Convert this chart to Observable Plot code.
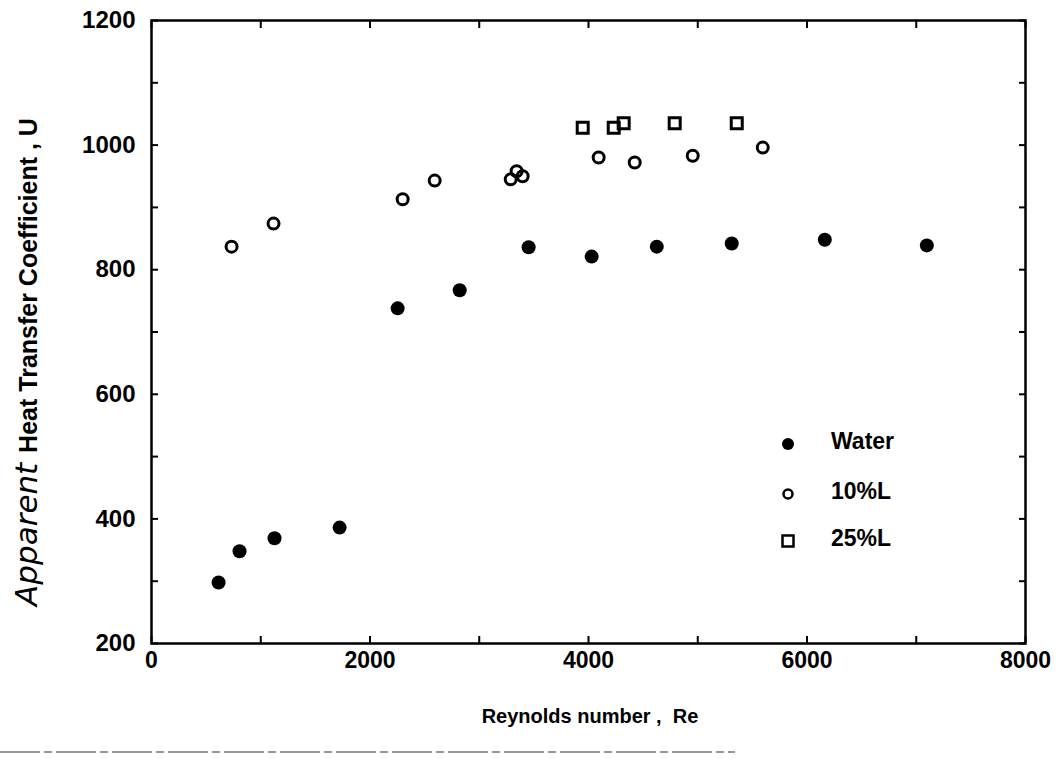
<!DOCTYPE html>
<html>
<head>
<meta charset="utf-8">
<script src="https://cdn.jsdelivr.net/npm/d3@7"></script>
<script src="https://cdn.jsdelivr.net/npm/@observablehq/plot@0.6"></script>
<style>
  body { margin: 0; background: #fff; }
  #chart svg { display: block; }
</style>
</head>
<body>
<div id="chart"></div>
<script>
// ---- Data ----
const waterRe = [614, 806, 1126, 1722, 2253, 2821, 3452, 4029, 4625, 5311, 6163, 7097];
const waterU  = [298, 348, 369, 386, 738, 767, 836, 821, 837, 842, 848, 839];

const l10Re = [733, 1117, 2299, 2592, 3288, 3342, 3397, 4093, 4423, 4954, 5595];
const l10U  = [837, 874, 913, 943, 945, 958, 950, 980, 972, 983, 996];

const l25Re = [3947, 4231, 4322, 4789, 5357];
const l25U  = [1028, 1028, 1035, 1035, 1035];

const seriesNames = ["Water", "10%L", "25%L"];

const xMajorTicks = [0, 2000, 4000, 6000, 8000];
const xAllTicks   = [0, 1000, 2000, 3000, 4000, 5000, 6000, 7000, 8000];
const yMajorTicks = [200, 400, 600, 800, 1000, 1200];
const yAllTicks   = [200, 300, 400, 500, 600, 700, 800, 900, 1000, 1100, 1200];

const xTitle = "Reynolds number ,  Re";
const yTitleA = "Apparent";
const yTitleB = "Heat Transfer Coefficient , U";

// ---- Tables ----
const water = waterRe.map((x, i) => ({x, y: waterU[i]}));
const l10 = l10Re.map((x, i) => ({x, y: l10U[i]}));
const l25 = l25Re.map((x, i) => ({x, y: l25U[i]}));

const blank = () => "";
const fmt = d => String(d);

const plot = Plot.plot({
  width: 1063,
  height: 765,
  marginLeft: 151,
  marginRight: 38,
  marginTop: 20,
  marginBottom: 122,
  x: {domain: [0, 8000]},
  y: {domain: [200, 1200]},
  style: {
    fontFamily: "'Liberation Sans', Arial, sans-serif",
    fontSize: "23px",
    fontWeight: "bold",
    color: "#000",
    background: "#fff",
    overflow: "visible"
  },
  marks: [
    // inward tick marks on all four sides
    Plot.axisX({anchor: "bottom", ticks: xAllTicks, tickSize: -7, strokeWidth: 2, tickFormat: blank, label: null}),
    Plot.axisX({anchor: "top", ticks: xAllTicks, tickSize: -7, strokeWidth: 2, tickFormat: blank, label: null}),
    Plot.axisY({anchor: "left", ticks: yAllTicks, tickSize: -7, strokeWidth: 2, tickFormat: blank, label: null}),
    Plot.axisY({anchor: "right", ticks: yAllTicks, tickSize: -7, strokeWidth: 2, tickFormat: blank, label: null}),
    // tick labels
    Plot.axisX({anchor: "bottom", ticks: xMajorTicks, tickSize: 0, tickPadding: 8, tickFormat: fmt, label: null}),
    Plot.axisY({anchor: "left", ticks: yMajorTicks, tickSize: 0, tickPadding: 16, tickFormat: fmt, label: null}),
    Plot.frame({stroke: "#000", strokeWidth: 2.5}),
    // data
    Plot.dot(water, {x: "x", y: "y", r: 7, fill: "#000", stroke: "none"}),
    Plot.dot(l10, {x: "x", y: "y", r: 5.5, fill: "none", stroke: "#000", strokeWidth: 3}),
    Plot.dot(l25, {x: "x", y: "y", symbol: "square", r: 6.2, fill: "none", stroke: "#000", strokeWidth: 3})
  ]
});

document.getElementById("chart").appendChild(plot);

// ---- Titles and legend (layout, added as real SVG text) ----
const svg = d3.select(plot);

// tick label sizing
svg.selectAll('g[aria-label$="tick label"]').style("font-size", "23px").style("font-weight", "bold");
svg.selectAll('g[aria-label="y-axis tick label"]').style("font-size", "24px");

const yt = svg.append("text")
  .attr("transform", "translate(37,362) rotate(-90)")
  .attr("text-anchor", "middle")
  .attr("fill", "#000");
yt.append("tspan").text(yTitleA + " ")
  .style("font-family", "'DejaVu Sans', sans-serif")
  .style("font-style", "italic")
  .style("font-weight", "normal")
  .style("font-size", "31px");
yt.append("tspan").text(yTitleB)
  .style("font-family", "'Liberation Sans', Arial, sans-serif")
  .style("font-weight", "bold")
  .style("font-size", "25px");

svg.append("text")
  .attr("x", 590).attr("y", 723)
  .attr("text-anchor", "middle")
  .attr("fill", "#000")
  .style("font-family", "'Liberation Sans', Arial, sans-serif")
  .style("font-weight", "bold")
  .style("font-size", "20px")
  .text(xTitle);

// legend
const lg = svg.append("g");
const rows = [444, 494, 541];
lg.append("circle").attr("cx", 788).attr("cy", rows[0]).attr("r", 6).attr("fill", "#000");
lg.append("circle").attr("cx", 788).attr("cy", rows[1]).attr("r", 4.5).attr("fill", "none").attr("stroke", "#000").attr("stroke-width", 2.5);
lg.append("rect").attr("x", 782.5).attr("y", rows[2] - 5.5).attr("width", 11).attr("height", 11).attr("fill", "none").attr("stroke", "#000").attr("stroke-width", 2.5);
seriesNames.forEach((name, i) => {
  lg.append("text")
    .attr("x", 831).attr("y", rows[i] - 3)
    .attr("dy", "0.35em")
    .attr("text-anchor", "start")
    .attr("fill", "#000")
    .style("font-family", "'Liberation Sans', Arial, sans-serif")
    .style("font-weight", "bold")
    .style("font-size", "23px")
    .text(name);
});

// faint scan rule at the bottom of the page
svg.append("line")
  .attr("x1", 0).attr("x2", 735).attr("y1", 752).attr("y2", 752)
  .attr("stroke", "#777").attr("stroke-width", 1.5).attr("stroke-dasharray", "40 4 8 4");
</script>
</body>
</html>
